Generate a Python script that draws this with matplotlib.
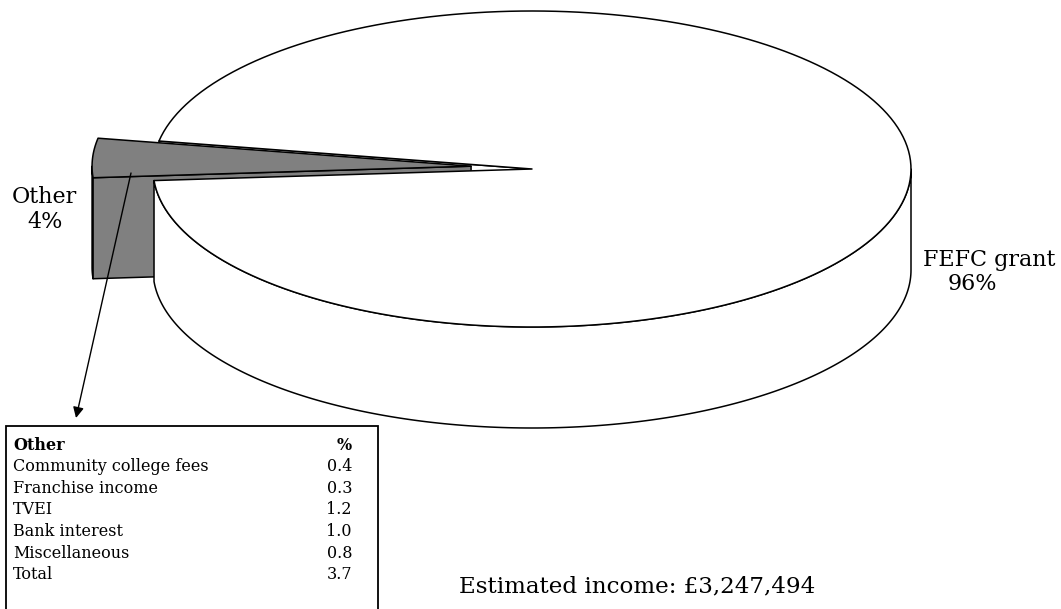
import numpy as np
import matplotlib
matplotlib.use("Agg")
import matplotlib.pyplot as plt
from matplotlib.patches import Polygon

# Income shares (%)
income_labels = ["FEFC grant", "Other"]
income_share = [96, 4]
total_income = "£3,247,494"

# Breakdown of "Other" income (%)
other_items = ["Community college fees", "Franchise income", "TVEI",
               "Bank interest", "Miscellaneous", "Total"]
other_values = [0.4, 0.3, 1.2, 1.0, 0.8, 3.7]

plt.rcParams["font.family"] = ["DejaVu Serif"]

W, H = 1061, 609
fig = plt.figure(figsize=(W / 100, H / 100), dpi=100)
ax = fig.add_axes([0, 0, 1, 1])
ax.set_xlim(0, W)
ax.set_ylim(H, 0)
ax.axis("off")

# Pie geometry (screen units, y grows downwards)
cx, cy = 532.0, 169.0
rx, ry = 379.0, 158.0
depth = 101.0
explode = 0.161
other_mid = 177.0          # direction of the "Other" slice, degrees

span_other = 360.0 * income_share[1] / sum(income_share)
a0 = other_mid - span_other / 2     # start of "Other" slice
a1 = other_mid + span_other / 2     # end of "Other" slice


def pt(theta, ox=0.0, oy=0.0, dz=0.0):
    t = np.radians(theta)
    return (cx + ox + rx * np.cos(t), cy + oy - ry * np.sin(t) + dz)


def arc(t_start, t_end, ox=0.0, oy=0.0, dz=0.0, n=200):
    ts = np.linspace(t_start, t_end, n)
    return [pt(t, ox, oy, dz) for t in ts]


edge = dict(edgecolor="black", linewidth=1.1, joinstyle="round")
grey = "#808080"

# Radial face of the big slice seen through the gap
face = [(cx, cy), pt(a0), pt(a0, dz=depth), (cx, cy + depth)]
ax.add_patch(Polygon(face, closed=True, facecolor="white", **edge, zorder=1))

# Exploded "Other" slice
ex = explode * rx * np.cos(np.radians(other_mid))
ey = -explode * ry * np.sin(np.radians(other_mid)) - 1.5
wall = arc(180, a1, ex, ey) + arc(a1, 180, ex, ey, depth)
ax.add_patch(Polygon(wall, closed=True, facecolor=grey, **edge, zorder=2))
rface = [(cx + ex, cy + ey), pt(a1, ex, ey), pt(a1, ex, ey, depth),
         (cx + ex, cy + ey + depth)]
ax.add_patch(Polygon(rface, closed=True, facecolor=grey, **edge, zorder=3))
top_o = [(cx + ex, cy + ey)] + arc(a0, a1, ex, ey)
ax.add_patch(Polygon(top_o, closed=True, facecolor=grey, **edge, zorder=4))

# Big "FEFC grant" slice: front wall then top
wall_b = arc(a1, 360) + arc(360, a1, dz=depth)
ax.add_patch(Polygon(wall_b, closed=True, facecolor="white", **edge, zorder=5))
top_b = [(cx, cy)] + arc(a1, a0 + 360)
ax.add_patch(Polygon(top_b, closed=True, facecolor="white", **edge, zorder=6))

# Slice labels
lab_fs = 16
ax.text(44, 197, income_labels[1], ha="center", va="center", fontsize=lab_fs, zorder=10)
ax.text(45, 222, f"{income_share[1]}%", ha="center", va="center", fontsize=lab_fs, zorder=10)
ax.text(989, 260, income_labels[0], ha="center", va="center", fontsize=lab_fs, zorder=10)
ax.text(972, 284, f"{income_share[0]}%", ha="center", va="center", fontsize=lab_fs, zorder=10)

# Breakdown table
bx0, bx1, by0 = 6, 378, 426
ax.plot([bx0, bx0, bx1, bx1], [H + 5, by0, by0, H + 5], color="black",
        linewidth=1.3, zorder=10, solid_joinstyle="miter")
tab_fs = 11.5
row_y0, row_dy = 445, 21.6
ax.text(13, row_y0, "Other", fontsize=tab_fs, fontweight="bold", va="center", zorder=11)
ax.text(352, row_y0, "%", fontsize=tab_fs, fontweight="bold", va="center", ha="right", zorder=11)
for i, (name, val) in enumerate(zip(other_items, other_values)):
    y = row_y0 + row_dy * (i + 1)
    ax.text(13, y, name, fontsize=tab_fs, va="center", zorder=11)
    ax.text(352, y, f"{val:.1f}", fontsize=tab_fs, va="center", ha="right", zorder=11)

# Arrow from the slice to the table
ax.annotate("", xy=(76, 418), xytext=(131, 173),
            arrowprops=dict(arrowstyle="-|>", color="black", lw=1.0,
                            mutation_scale=16, shrinkA=0, shrinkB=0),
            zorder=12)

ax.text(637, 592, f"Estimated income: {total_income}", ha="center", va="baseline",
        fontsize=16.6, zorder=10)

fig.savefig("out.png", dpi=100)
